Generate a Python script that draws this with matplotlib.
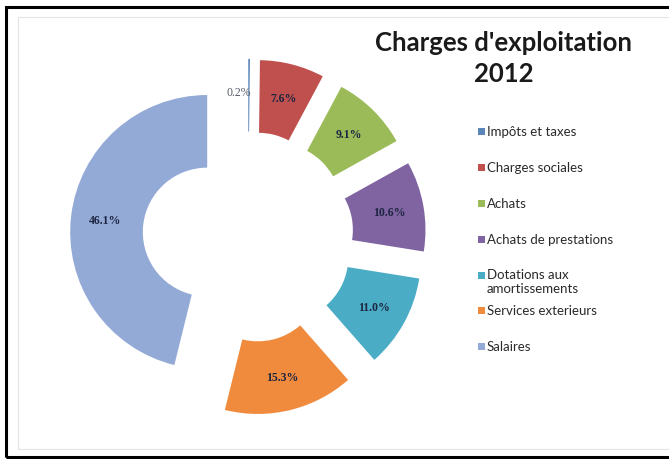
import matplotlib.pyplot as plt
from matplotlib.patches import Rectangle

# data
categories = ["Impôts et taxes", "Charges sociales", "Achats", "Achats de prestations",
              "Dotations aux\namortissements", "Services exterieurs", "Salaires"]
values = [0.2, 7.6, 9.1, 10.6, 11.0, 15.3, 46.1]
colors = ["#5B86BA", "#C0504D", "#9BBB59", "#8064A2", "#4BACC6", "#F08A3C", "#93A9D6"]

W, H = 669, 460
cx, cy, R = 248, 238, 137  # pixel position / radius of the doughnut

fig = plt.figure(figsize=(W / 100, H / 100), dpi=100)
ax = fig.add_axes([0, 0, 1, 1])

wedges, texts, autotexts = ax.pie(values, colors=colors, startangle=90, counterclock=False,
                                  explode=[0.3] * len(values), radius=1.0,
                                  wedgeprops=dict(width=0.53, linewidth=0),
                                  autopct='%.1f%%', pctdistance=0.75,
                                  textprops=dict(family='Liberation Serif', fontsize=8.5,
                                                 fontweight='bold', color='#1c2541'))
# small label sits left of its thin slice
x0, y0 = autotexts[0].get_position()
autotexts[0].set_position((x0 - 10 / R, y0 + 1 / R))
autotexts[0].set_color('#555a66')
autotexts[0].set_fontweight('normal')

ax.set_xlim(-cx / R, (W - cx) / R)
ax.set_ylim(-(H - cy) / R, cy / R)
ax.set_aspect('equal')
ax.axis('off')

# title
fig.text(504 / W, 1 - 43 / H, "Charges d'exploitation", ha='center', va='center',
         fontsize=18.5, fontweight='bold', family='Lato', color='#1a1a1a')
fig.text(504 / W, 1 - 74 / H, "2012", ha='center', va='center',
         fontsize=18.5, fontweight='bold', family='Lato', color='#1a1a1a')

# legend drawn by hand (Excel overlaps the two-line entry)
legend_y = [132, 168, 204, 240, 276, 311, 347]
for lab, col, yy in zip(categories, colors, legend_y):
    fig.patches.append(Rectangle((478 / W, 1 - (yy + 3.5) / H), 7 / W, 7 / H,
                                 transform=fig.transFigure, facecolor=col, edgecolor='none'))
    if '\n' in lab:
        fig.text(487 / W, 1 - (yy - 7) / H, lab, ha='left', va='top',
                 fontsize=9.5, family='Lato', color='#2a2a2a', linespacing=1.2)
    else:
        fig.text(487 / W, 1 - yy / H, lab, ha='left', va='center',
                 fontsize=9.5, family='Lato', color='#2a2a2a')

# outer frame
fig.patches.append(Rectangle((6 / W, 1 - 458 / H), 700 / W, 450 / H, transform=fig.transFigure,
                             facecolor='none', edgecolor='black', linewidth=2.2))
fig.patches.append(Rectangle((18 / W, 1 - 450 / H), 700 / W, 432 / H, transform=fig.transFigure,
                             facecolor='none', edgecolor='#e4e4e4', linewidth=0.8))

plt.savefig("out.png", dpi=100)
